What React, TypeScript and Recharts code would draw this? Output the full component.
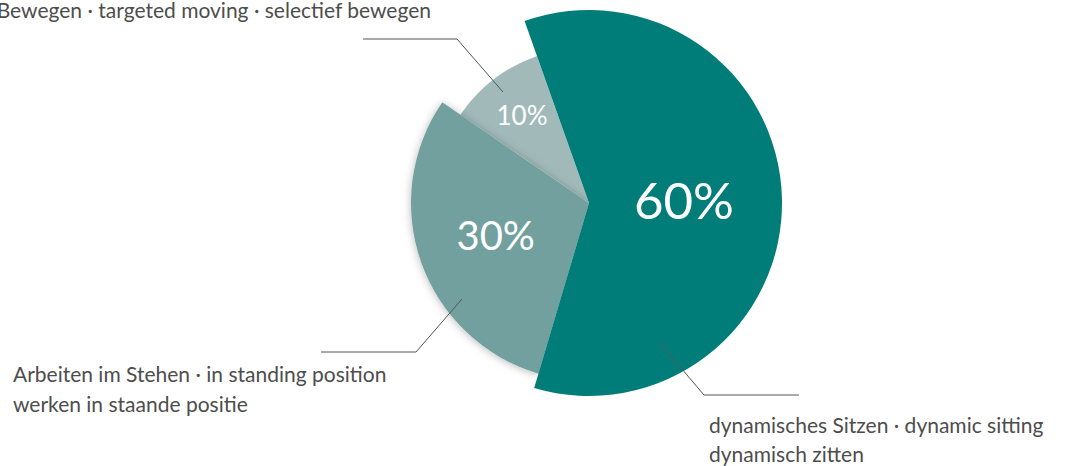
import { PieChart, Pie, Cell } from 'recharts';

const SEGMENTS = ['Bewegen', 'Stehen', 'Sitzen'];
const SHARES = [10, 30, 60];
const CAPTIONS = [
  ['Bewegen · targeted moving · selectief bewegen'],
  ['Arbeiten im Stehen · in standing position', 'werken in staande positie'],
  ['dynamisches Sitzen · dynamic sitting', 'dynamisch zitten'],
];

const data = SEGMENTS.map((name, i) => ({ name, value: SHARES[i] }));

const COLORS = ['#a1bab9', '#72a09e', '#007d79'];
const RADII = [156, 178, 193];
const PCT_RADIUS = [110, 99, 95];
const PCT_SIZE = [26, 40, 51];

const CX = 589;
const CY = 203;
const FONT = 'Lato, "Open Sans", sans-serif';

// callout geometry, offsets from the pie centre
const CALLOUTS = [
  { start: [-86, -111], elbow: [-132, -164], endX: -226, textX: -158, textY: [-185], anchor: 'end' },
  { start: [-127, 96], elbow: [-173, 149], endX: -268, textX: -576, textY: [179, 209], anchor: 'start' },
  { start: [70, 139], elbow: [115, 192], endX: 210, textX: 120, textY: [230, 259], anchor: 'start' },
];

const RADIAN = Math.PI / 180;

const renderLabel = (props: any) => {
  const { cx, cy, midAngle, index, value } = props;
  const r = PCT_RADIUS[index];
  const x = cx + r * Math.cos(-midAngle * RADIAN);
  const y = cy + r * Math.sin(-midAngle * RADIAN);
  const c = CALLOUTS[index];
  const pts = [
    [cx + c.start[0], cy + c.start[1]],
    [cx + c.elbow[0], cy + c.elbow[1]],
    [cx + c.endX, cy + c.elbow[1]],
  ]
    .map((p) => p.join(','))
    .join(' ');

  return (
    <g key={`label-${index}`}>
      <polyline points={pts} fill="none" stroke="#555" strokeWidth={1} />
      <text
        x={x}
        y={y}
        dy="0.36em"
        textAnchor="middle"
        fill="#fff"
        fontSize={PCT_SIZE[index]}
        fontFamily={FONT}
      >
        {`${value}%`}
      </text>
      <text
        textAnchor={c.anchor}
        fill="#4d4d4d"
        fontSize={21}
        fontFamily={FONT}
      >
        {CAPTIONS[index].map((line, j) => (
          <tspan key={j} x={cx + c.textX} y={cy + c.textY[j]}>
            {line}
          </tspan>
        ))}
      </text>
    </g>
  );
};

export default function App() {
  return (
    <div style={{ position: 'absolute', left: 0, top: 0, width: 1069, height: 466, background: '#fff' }}>
      <PieChart width={1069} height={466} margin={{ top: 0, right: 0, bottom: 0, left: 0 }}>
        <defs>
          <filter id="sliceShadow" x="-20%" y="-20%" width="140%" height="140%">
            <feDropShadow dx="0" dy="1" stdDeviation="4" floodColor="#000" floodOpacity="0.28" />
          </filter>
        </defs>
        {RADII.map((radius, p) => (
          <Pie
            key={p}
            data={data}
            dataKey="value"
            nameKey="name"
            cx={CX}
            cy={CY}
            innerRadius={0}
            outerRadius={radius}
            startAngle={109.5}
            endAngle={469.5}
            stroke="none"
            isAnimationActive={false}
            labelLine={false}
            label={p === RADII.length - 1 ? renderLabel : false}
          >
            {data.map((_, i) => (
              <Cell
                key={i}
                fill={i === p ? COLORS[i] : 'none'}
                stroke="none"
                filter={i === p && p === 1 ? 'url(#sliceShadow)' : undefined}
              />
            ))}
          </Pie>
        ))}
      </PieChart>
    </div>
  );
}
